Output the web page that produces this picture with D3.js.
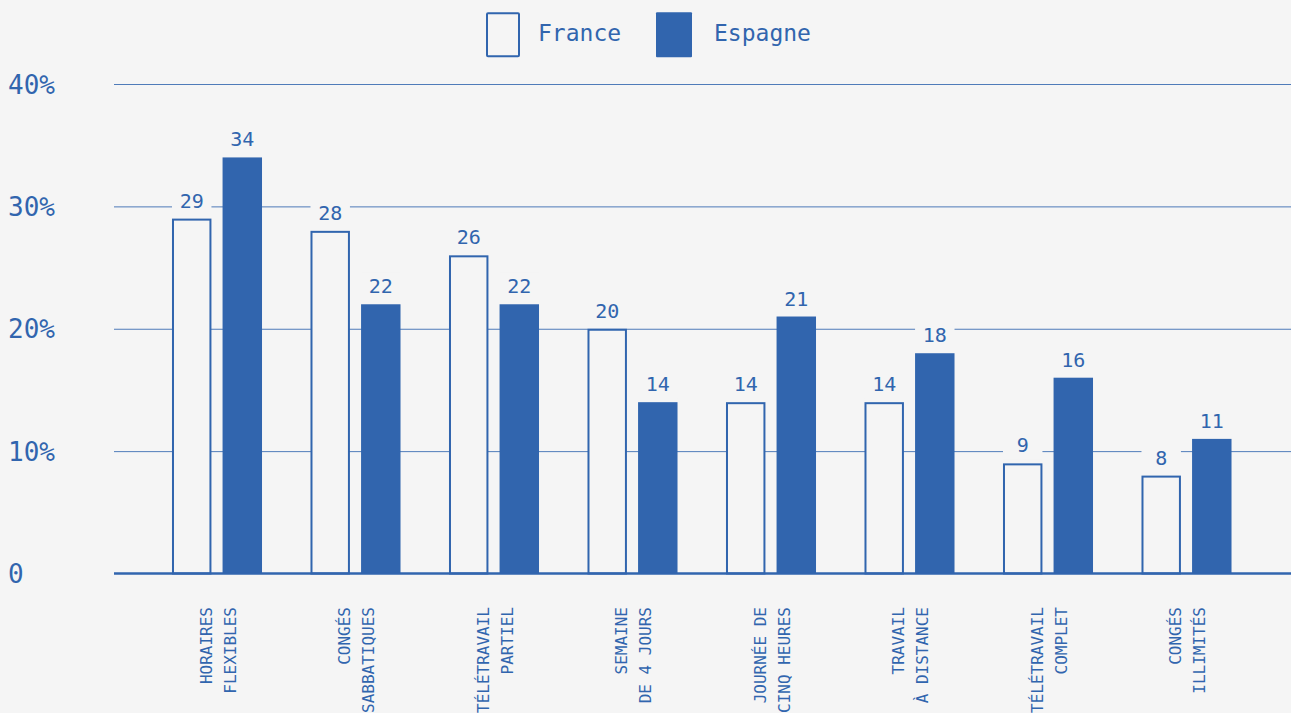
<!DOCTYPE html>
<html>
<head>
<meta charset="utf-8">
<script src="https://cdn.jsdelivr.net/npm/d3@7"></script>
<style>
  html, body { margin: 0; padding: 0; background: #f5f5f5; overflow: hidden; }
  svg { display: block; }
  text { font-family: "DejaVu Sans Mono", "Liberation Mono", monospace; fill: #3165ae; }
</style>
</head>
<body>
<svg id="chart" width="1291" height="713"></svg>
<script>
// Categories (two label lines each)
const categories = [
  "Horaires flexibles", "Congés sabbatiques", "Télétravail partiel", "Semaine de 4 jours",
  "Journée de cinq heures", "Travail à distance", "Télétravail complet", "Congés illimités"
];
const labelLine1 = ["HORAIRES", "CONGÉS", "TÉLÉTRAVAIL", "SEMAINE", "JOURNÉE DE", "TRAVAIL", "TÉLÉTRAVAIL", "CONGÉS"];
const labelLine2 = ["FLEXIBLES", "SABBATIQUES", "PARTIEL", "DE 4 JOURS", "CINQ HEURES", "À DISTANCE", "COMPLET", "ILLIMITÉS"];

const seriesNames = ["France", "Espagne"];
const franceValues  = [29, 28, 26, 20, 14, 14, 9, 8];
const espagneValues = [34, 22, 22, 14, 21, 18, 16, 11];

const yTicks = [0, 10, 20, 30, 40];
const yTickLabels = ["0", "10%", "20%", "30%", "40%"];

const BLUE = "#3165ae";
const BG = "#f5f5f5";

const svg = d3.select("#chart");
const W = 1291;

const y = d3.scaleLinear().domain([0, 40]).range([573.5, 84]);

const x0 = d3.scaleBand().domain(categories)
  .range([147.75, 1255.75]).paddingInner(0.35).paddingOuter(0.175);
const x1 = d3.scaleBand().domain(seriesNames)
  .range([0, x0.bandwidth()]).paddingInner(0.22);

const gridLeft = 114;

// Background
svg.append("rect").attr("width", W).attr("height", 713).attr("fill", BG);

// Y axis with full-width gridlines
const yAxis = d3.axisLeft(y)
  .tickValues(yTicks)
  .tickSize(-(W - gridLeft))
  .tickFormat((d, i) => yTickLabels[i]);

const gy = svg.append("g").attr("transform", `translate(${gridLeft},0)`).call(yAxis);
gy.select(".domain").remove();
gy.selectAll(".tick line")
  .attr("stroke", BLUE).attr("stroke-width", 1).attr("stroke-opacity", 0.85)
  .filter(d => d === 0).remove();
gy.selectAll(".tick text")
  .attr("x", 8 - gridLeft)
  .attr("dy", null)
  .attr("dominant-baseline", "central")
  .attr("text-anchor", "start")
  .style("font-size", "26px")
  .attr("fill", BLUE);

// Data rows
const rows = categories.map((c, i) => ({
  cat: c,
  vals: [
    { key: "France", v: franceValues[i] },
    { key: "Espagne", v: espagneValues[i] }
  ]
}));

const groups = svg.append("g").selectAll("g.grp").data(rows).join("g")
  .attr("class", "grp")
  .attr("transform", d => `translate(${x0(d.cat)},0)`);

// Bars
groups.selectAll("rect.bar").data(d => d.vals).join("rect")
  .attr("class", "bar")
  .attr("x", d => x1(d.key) + (d.key === "France" ? 1 : 0))
  .attr("width", d => x1.bandwidth() - (d.key === "France" ? 2 : 0))
  .attr("y", d => y(d.v) + (d.key === "France" ? 1 : 0))
  .attr("height", d => y(0) - y(d.v) - (d.key === "France" ? 1 : 0))
  .attr("fill", d => d.key === "France" ? BG : BLUE)
  .attr("stroke", d => d.key === "France" ? BLUE : "none")
  .attr("stroke-width", 2);

// Value label knockouts and labels
groups.selectAll("rect.lblbg").data(d => d.vals).join("rect")
  .attr("class", "lblbg")
  .attr("x", d => x1(d.key))
  .attr("width", x1.bandwidth())
  .attr("y", d => y(d.v) - 32)
  .attr("height", 28)
  .attr("fill", BG);

groups.selectAll("text.val").data(d => d.vals).join("text")
  .attr("class", "val")
  .attr("x", d => x1(d.key) + x1.bandwidth() / 2)
  .attr("y", d => y(d.v) - 11)
  .attr("text-anchor", "middle")
  .style("font-size", "20px")
  .text(d => d.v);

// Baseline
svg.append("line")
  .attr("x1", gridLeft).attr("x2", W)
  .attr("y1", y(0)).attr("y2", y(0))
  .attr("stroke", BLUE).attr("stroke-width", 2.5);

// Category labels, rotated
const catG = svg.append("g");
rows.forEach((d, i) => {
  const cx = x0(d.cat) + x0.bandwidth() / 2;
  catG.append("text")
    .attr("transform", `translate(${cx - 5.5},607) rotate(-90)`)
    .attr("text-anchor", "end")
    .style("font-size", "16px")
    .text(labelLine1[i]);
  catG.append("text")
    .attr("transform", `translate(${cx + 18.5},607) rotate(-90)`)
    .attr("text-anchor", "end")
    .style("font-size", "16px")
    .text(labelLine2[i]);
});

// Legend
const legendItems = [
  { key: "France", boxX: 487, textX: 538 },
  { key: "Espagne", boxX: 657, textX: 714 }
];
const lg = svg.append("g");
legendItems.forEach(it => {
  lg.append("rect")
    .attr("x", it.key === "France" ? it.boxX : it.boxX - 1)
    .attr("y", it.key === "France" ? 13.3 : 12.3)
    .attr("width", it.key === "France" ? 32 : 36)
    .attr("height", it.key === "France" ? 43 : 45)
    .attr("rx", 1)
    .attr("fill", it.key === "France" ? BG : BLUE)
    .attr("stroke", it.key === "France" ? BLUE : "none")
    .attr("stroke-width", 2);
  lg.append("text")
    .attr("x", it.textX).attr("y", 41)
    .style("font-size", "23px")
    .text(it.key);
});
</script>
</body>
</html>
